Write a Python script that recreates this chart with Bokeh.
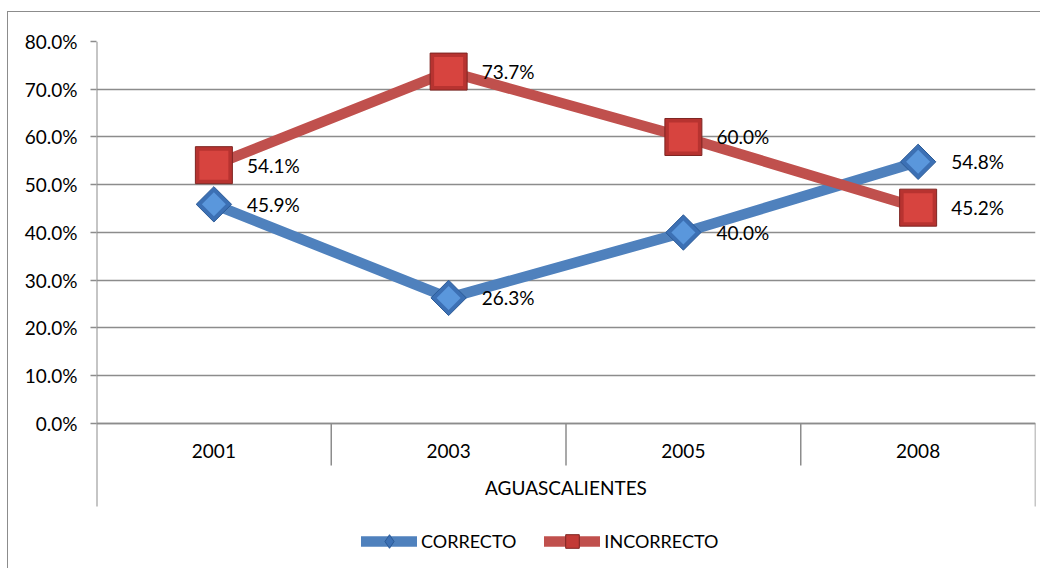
import math
from bokeh.plotting import figure
from bokeh.models import (FactorRange, Range1d, FixedTicker, PrintfTickFormatter,
                          Legend, LegendItem, ColumnDataSource)
from bokeh.transform import dodge
from bokeh.core.properties import value
from bokeh.embed import file_html
from bokeh.resources import INLINE

# ---- data ----
state = "AGUASCALIENTES"
years = ["2001", "2003", "2005", "2008"]
correcto = [45.9, 26.3, 40.0, 54.8]
incorrecto = [54.1, 73.7, 60.0, 45.2]
y_ticks = [0, 10, 20, 30, 40, 50, 60, 70, 80]
series_names = ["CORRECTO", "INCORRECTO"]

FONT = "Lato"
FS = "19px"
GRID = "#8c8c8c"
BLUE = "#4F81BD"
RED = "#C0504D"

factors = [(state, y) for y in years]
y_min = -30.58      # bottom of the frame (legend zone)
y_sep_long = -17.38  # bottom of the outer category separators
y_sep_short = -8.8   # bottom of the inner category separators

p = figure(x_range=FactorRange(*factors, range_padding=0, factor_padding=0),
           y_range=Range1d(y_min, 80),
           width=1033, height=557, output_backend="svg", toolbar_location=None,
           min_border_left=88, min_border_top=29, min_border_right=6, min_border_bottom=0)
p.styles = {"border-left": "1px solid #8c8c8c", "border-top": "1px solid #8c8c8c",
            "margin-top": "11px", "margin-left": "7px"}
p.outline_line_color = None
p.background_fill_color = "white"

# y axis
p.yaxis.ticker = FixedTicker(ticks=y_ticks)
p.yaxis.formatter = PrintfTickFormatter(format="%.1f%%")
p.yaxis.axis_line_color = None
p.yaxis.major_tick_line_color = GRID
p.yaxis.major_tick_line_width = 1.5
p.yaxis.major_tick_out = 6
p.yaxis.major_tick_in = 0
p.yaxis.minor_tick_line_color = None
p.yaxis.major_label_standoff = 13
p.yaxis.major_label_text_font = FONT
p.yaxis.major_label_text_font_size = FS
p.yaxis.major_label_text_color = "black"

p.xgrid.visible = False
p.ygrid.grid_line_color = GRID
p.ygrid.grid_line_width = 1.5

# x axis (categorical, nested) drawn at y = 0 inside the frame
p.xaxis.fixed_location = 0
p.xaxis.axis_line_color = GRID
p.xaxis.axis_line_width = 1.5
p.xaxis.major_tick_line_color = None
p.xaxis.minor_tick_line_color = None
p.xaxis.major_label_standoff = 15
p.xaxis.major_label_text_font = FONT
p.xaxis.major_label_text_font_size = FS
p.xaxis.major_label_text_color = "black"
p.xaxis.group_text_font = FONT
p.xaxis.group_text_font_size = FS
p.xaxis.group_text_color = "black"
p.xaxis.group_text_font_style = "normal"
p.xaxis.group_label_orientation = "horizontal"
p.xaxis.separator_line_color = None

# category separators
left = ColumnDataSource(dict(x=factors[:1], y0=[80], y1=[y_sep_long]))
inner = ColumnDataSource(dict(x=factors[:-1], y0=[0] * 3, y1=[y_sep_short] * 3))
outer = ColumnDataSource(dict(x=factors[-1:], y0=[0], y1=[y_sep_long]))
p.segment(x0=dodge("x", -0.5, range=p.x_range), x1=dodge("x", -0.5, range=p.x_range),
          y0="y0", y1="y1", source=left, line_color=GRID, line_width=2)
for src in (inner, outer):
    p.segment(x0=dodge("x", 0.5, range=p.x_range), x1=dodge("x", 0.5, range=p.x_range),
              y0="y0", y1="y1", source=src, line_color=GRID, line_width=1.5)

# series
lc = p.line(factors, correcto, line_color=BLUE, line_width=10.5, line_join="round", line_cap="round")
li = p.line(factors, incorrecto, line_color=RED, line_width=10.5, line_join="round", line_cap="round")

p.scatter(factors, correcto, marker="square", angle=math.pi / 4, size=25,
          fill_color="#3C70B4", line_color="#2B5A96", line_width=1)
p.scatter(factors, correcto, marker="square", angle=math.pi / 4, size=17,
          fill_color="#5A97DC", line_color=None)
p.scatter(factors, incorrecto, marker="square", size=37,
          fill_color="#B73330", line_color="#7E2522", line_width=1)
p.scatter(factors, incorrecto, marker="square", size=29,
          fill_color="#D7443F", line_color=None)

# legend proxies (zero size in the plot, drawn only inside the legend)
lg_c = p.scatter(factors, correcto, marker="diamond", size=0,
                 fill_color="#3C70B4", line_color="#2B5A96")
lg_i = p.scatter(factors, incorrecto, marker="square", size=0,
                 fill_color="#C33A36", line_color="#7E2522")

# data labels
for vals in (correcto, incorrecto):
    p.text(x=factors, y=vals, text=[f"{v:.1f}%" for v in vals], x_offset=33,
           text_baseline="middle", text_align="left", text_font=value(FONT),
           text_font_size=FS, text_color="black")

legend = Legend(items=[LegendItem(label=series_names[0], renderers=[lc, lg_c]),
                       LegendItem(label=series_names[1], renderers=[li, lg_i])],
                orientation="horizontal", location=(265, 11),
                glyph_width=56, glyph_height=34, label_standoff=4, spacing=28,
                padding=0, margin=0, border_line_color=None, background_fill_alpha=0,
                label_text_font=FONT, label_text_font_size="18px", label_text_color="black")
p.add_layout(legend)

open("out.html", "w").write(file_html(p, INLINE))
